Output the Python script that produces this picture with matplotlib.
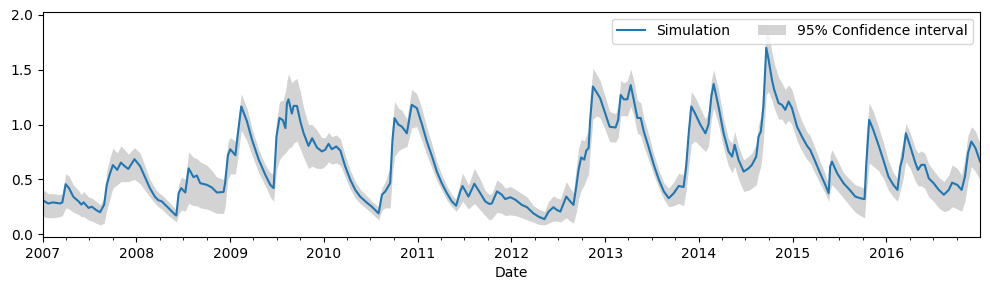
import numpy as np
import pandas as pd
import matplotlib
matplotlib.use("Agg")
import matplotlib.pyplot as plt
import matplotlib.dates as mdates

# values
dates = [
    "2007-01-01", "2007-01-23", "2007-02-11", "2007-03-10", "2007-03-19", "2007-04-01",
    "2007-04-14", "2007-05-01", "2007-05-21", "2007-06-01", "2007-06-10", "2007-06-29",
    "2007-07-12", "2007-07-29", "2007-08-13", "2007-08-29", "2007-09-08", "2007-09-21",
    "2007-10-02", "2007-10-19", "2007-11-02", "2007-11-17", "2007-12-01", "2007-12-25",
    "2008-01-16", "2008-02-04", "2008-02-23", "2008-03-14", "2008-03-27", "2008-04-09",
    "2008-05-05", "2008-06-01", "2008-06-05", "2008-06-14", "2008-06-24", "2008-07-10",
    "2008-07-23", "2008-08-11", "2008-08-24", "2008-09-06", "2008-10-02", "2008-10-22",
    "2008-11-10", "2008-12-06", "2008-12-12", "2008-12-23",
    "2009-01-01", "2009-01-21", "2009-01-31", "2009-02-13", "2009-03-07", "2009-03-27",
    "2009-04-22", "2009-05-18", "2009-06-06", "2009-06-19", "2009-06-30", "2009-07-12",
    "2009-07-25", "2009-08-04", "2009-08-10", "2009-08-16", "2009-08-29", "2009-09-05",
    "2009-09-18", "2009-10-01", "2009-10-14", "2009-11-02", "2009-11-16", "2009-12-05",
    "2009-12-24",
    "2010-01-06", "2010-01-19", "2010-02-01", "2010-02-18", "2010-03-06", "2010-03-25",
    "2010-04-14", "2010-05-03", "2010-05-22", "2010-06-17", "2010-07-07", "2010-08-02",
    "2010-08-15", "2010-08-28", "2010-09-16", "2010-09-25", "2010-10-03", "2010-10-18",
    "2010-11-01", "2010-11-20", "2010-12-09", "2010-12-29",
    "2011-01-18", "2011-02-06", "2011-02-26", "2011-03-17", "2011-04-05", "2011-04-25",
    "2011-05-14", "2011-05-31", "2011-06-16", "2011-06-25", "2011-07-18", "2011-08-10",
    "2011-09-02", "2011-09-21", "2011-10-07", "2011-10-17", "2011-11-06", "2011-11-25",
    "2011-12-08", "2011-12-28",
    "2012-01-16", "2012-02-11", "2012-03-02", "2012-03-27", "2012-04-16", "2012-05-09",
    "2012-05-25", "2012-06-13", "2012-06-27", "2012-07-10", "2012-08-02", "2012-08-17",
    "2012-08-30", "2012-09-10", "2012-09-19", "2012-09-29", "2012-10-11", "2012-10-19",
    "2012-10-28", "2012-11-03", "2012-11-14", "2012-11-30", "2012-12-12",
    "2013-01-01", "2013-01-18", "2013-02-10", "2013-02-20", "2013-03-02", "2013-03-14",
    "2013-03-28", "2013-04-10", "2013-04-22", "2013-05-06", "2013-05-19", "2013-05-31",
    "2013-06-20", "2013-07-09", "2013-07-29", "2013-08-17", "2013-09-05", "2013-09-25",
    "2013-10-14", "2013-11-02", "2013-11-12", "2013-11-22", "2013-12-02", "2013-12-17",
    "2014-01-06", "2014-01-26", "2014-02-07", "2014-02-18", "2014-02-27", "2014-03-18",
    "2014-04-07", "2014-04-26", "2014-05-10", "2014-05-20", "2014-06-04", "2014-06-24",
    "2014-07-13", "2014-07-26", "2014-08-12", "2014-08-21", "2014-08-30", "2014-09-09",
    "2014-09-20", "2014-09-28", "2014-10-12", "2014-10-21", "2014-11-07", "2014-11-20",
    "2014-12-03", "2014-12-16", "2014-12-29",
    "2015-01-18", "2015-02-06", "2015-02-26", "2015-03-10", "2015-03-30", "2015-04-18",
    "2015-05-08", "2015-05-21", "2015-05-27", "2015-06-03", "2015-06-23", "2015-07-18",
    "2015-08-11", "2015-09-02", "2015-09-21", "2015-10-08", "2015-10-14", "2015-10-26",
    "2015-11-11", "2015-12-01", "2015-12-20",
    "2016-01-09", "2016-01-28", "2016-02-13", "2016-02-24", "2016-03-04", "2016-03-17",
    "2016-04-03", "2016-04-23", "2016-05-03", "2016-05-16", "2016-05-29", "2016-06-14",
    "2016-07-03", "2016-07-23", "2016-08-12", "2016-08-31", "2016-09-13", "2016-10-03",
    "2016-10-20", "2016-11-02", "2016-11-14", "2016-11-27", "2016-12-13", "2016-12-31",
]

simulation = [
    0.31, 0.28, 0.29, 0.28, 0.29, 0.456, 0.42, 0.34, 0.30, 0.27, 0.29, 0.24,
    0.25, 0.22, 0.20, 0.27, 0.45, 0.556, 0.63, 0.587, 0.653, 0.62, 0.595, 0.684,
    0.62, 0.52, 0.42, 0.34, 0.31, 0.30, 0.24, 0.176, 0.17, 0.374, 0.42, 0.38,
    0.60, 0.52, 0.535, 0.465, 0.45, 0.425, 0.38, 0.385, 0.465, 0.72,
    0.775, 0.72, 0.92, 1.165, 1.03, 0.86, 0.68, 0.54, 0.45, 0.42, 0.89, 1.06,
    1.04, 0.967, 1.195, 1.23, 1.10, 1.17, 1.17, 1.03, 0.92, 0.805, 0.875, 0.79,
    0.755,
    0.77, 0.824, 0.775, 0.80, 0.763, 0.617, 0.495, 0.404, 0.343, 0.288, 0.25, 0.19,
    0.36, 0.39, 0.465, 0.86, 1.058, 1.0, 0.98, 0.92, 1.18, 1.15,
    1.0, 0.845, 0.71, 0.57, 0.465, 0.374, 0.30, 0.26, 0.39, 0.44, 0.343, 0.46,
    0.374, 0.30, 0.276, 0.28, 0.39, 0.36, 0.32, 0.337,
    0.315, 0.267, 0.246, 0.19, 0.16, 0.137, 0.206, 0.246, 0.22, 0.206, 0.343, 0.30,
    0.267, 0.435, 0.587, 0.70, 0.68, 0.763, 0.785, 1.04, 1.347, 1.287, 1.24,
    1.10, 0.98, 0.973, 1.04, 1.27, 1.23, 1.23, 1.36, 1.225, 1.06, 1.06, 0.936,
    0.785, 0.632, 0.495, 0.39, 0.328, 0.374, 0.44, 0.43, 0.617, 0.92, 1.165, 1.10,
    1.0, 0.92, 1.0, 1.255, 1.37, 1.165, 0.92, 0.754, 0.708, 0.815, 0.678, 0.571,
    0.60, 0.632, 0.708, 0.89, 0.936, 1.165, 1.70, 1.606, 1.41, 1.317, 1.195, 1.18,
    1.134, 1.21, 1.15,
    0.98, 0.89, 0.805, 0.77, 0.662, 0.556, 0.45, 0.374, 0.617, 0.662, 0.556, 0.465,
    0.404, 0.343, 0.328, 0.32, 0.617, 1.043, 0.95, 0.815, 0.678,
    0.525, 0.45, 0.404, 0.617, 0.693, 0.92, 0.80, 0.648, 0.587, 0.632, 0.632, 0.51,
    0.465, 0.404, 0.36, 0.404, 0.47, 0.45, 0.404, 0.525, 0.74, 0.845, 0.785, 0.662,
]

ci_lower = [
    0.16, 0.15, 0.15, 0.16, 0.17, 0.24, 0.23, 0.20, 0.18, 0.16, 0.16, 0.13,
    0.12, 0.10, 0.085, 0.10, 0.22, 0.33, 0.42, 0.45, 0.48, 0.48, 0.48, 0.50,
    0.46, 0.40, 0.34, 0.28, 0.25, 0.23, 0.17, 0.12, 0.11, 0.18, 0.22, 0.21,
    0.28, 0.26, 0.26, 0.24, 0.23, 0.21, 0.19, 0.19, 0.25, 0.50,
    0.55, 0.55, 0.70, 0.95, 0.85, 0.72, 0.56, 0.44, 0.34, 0.30, 0.58, 0.68,
    0.72, 0.74, 0.76, 0.78, 0.80, 0.83, 0.85, 0.78, 0.70, 0.60, 0.62, 0.60,
    0.60,
    0.62, 0.66, 0.64, 0.65, 0.63, 0.52, 0.41, 0.33, 0.28, 0.23, 0.19, 0.13,
    0.22, 0.24, 0.24, 0.55, 0.71, 0.76, 0.78, 0.80, 0.97, 0.98,
    0.85, 0.72, 0.60, 0.49, 0.40, 0.31, 0.25, 0.21, 0.26, 0.30, 0.23, 0.28,
    0.22, 0.17, 0.13, 0.14, 0.20, 0.19, 0.17, 0.176,
    0.17, 0.15, 0.13, 0.11, 0.09, 0.085, 0.10, 0.12, 0.12, 0.11, 0.15, 0.12,
    0.10, 0.20, 0.32, 0.40, 0.45, 0.50, 0.55, 0.75, 1.05, 1.08, 1.06,
    0.95, 0.845, 0.84, 0.88, 1.08, 1.08, 1.08, 1.165, 1.08, 0.92, 0.90, 0.80,
    0.67, 0.54, 0.42, 0.32, 0.25, 0.26, 0.28, 0.26, 0.40, 0.62, 0.82, 0.85,
    0.80, 0.755, 0.80, 1.05, 1.15, 1.0, 0.78, 0.62, 0.56, 0.62, 0.50, 0.39,
    0.40, 0.42, 0.45, 0.55, 0.62, 0.85, 1.27, 1.30, 1.22, 1.15, 1.05, 1.05,
    1.0, 1.04, 1.0,
    0.85, 0.76, 0.68, 0.65, 0.55, 0.46, 0.37, 0.30, 0.40, 0.45, 0.40, 0.33,
    0.26, 0.20, 0.17, 0.15, 0.35, 0.65, 0.62, 0.58, 0.51,
    0.40, 0.34, 0.30, 0.40, 0.48, 0.66, 0.60, 0.48, 0.44, 0.44, 0.42, 0.34,
    0.30, 0.24, 0.206, 0.22, 0.25, 0.23, 0.21, 0.30, 0.48, 0.617, 0.57, 0.50,
]

ci_upper = [
    0.41, 0.37, 0.37, 0.36, 0.37, 0.55, 0.53, 0.45, 0.40, 0.36, 0.39, 0.34,
    0.33, 0.30, 0.27, 0.33, 0.58, 0.70, 0.785, 0.74, 0.806, 0.77, 0.73, 0.79,
    0.74, 0.62, 0.50, 0.42, 0.38, 0.36, 0.30, 0.23, 0.22, 0.45, 0.52, 0.50,
    0.75, 0.70, 0.69, 0.66, 0.63, 0.58, 0.52, 0.50, 0.58, 0.84,
    0.88, 0.85, 1.03, 1.28, 1.15, 0.96, 0.77, 0.63, 0.56, 0.55, 1.03, 1.21,
    1.22, 1.30, 1.40, 1.46, 1.38, 1.40, 1.42, 1.30, 1.15, 1.00, 1.00, 0.95,
    0.88,
    0.88, 0.93, 0.89, 0.905, 0.87, 0.72, 0.58, 0.48, 0.41, 0.35, 0.30, 0.25,
    0.42, 0.48, 0.617, 1.0, 1.21, 1.15, 1.13, 1.05, 1.32, 1.28,
    1.14, 0.97, 0.82, 0.66, 0.54, 0.44, 0.36, 0.32, 0.48, 0.556, 0.45, 0.60,
    0.50, 0.40, 0.36, 0.37, 0.495, 0.46, 0.42, 0.435,
    0.41, 0.37, 0.34, 0.26, 0.23, 0.206, 0.30, 0.35, 0.33, 0.32, 0.48, 0.42,
    0.38, 0.62, 0.78, 0.867, 0.85, 0.90, 0.95, 1.25, 1.515, 1.45, 1.40,
    1.25, 1.12, 1.10, 1.17, 1.40, 1.38, 1.40, 1.505, 1.40, 1.22, 1.20, 1.06,
    0.90, 0.73, 0.58, 0.47, 0.42, 0.48, 0.556, 0.54, 0.75, 1.06, 1.30, 1.25,
    1.15, 1.05, 1.12, 1.40, 1.50, 1.32, 1.05, 0.87, 0.83, 0.936, 0.80, 0.678,
    0.71, 0.74, 0.82, 1.0, 1.08, 1.40, 1.94, 1.85, 1.66, 1.56, 1.43, 1.38,
    1.32, 1.36, 1.32,
    1.15, 1.03, 0.93, 0.90, 0.78, 0.66, 0.55, 0.45, 0.72, 0.77, 0.68, 0.56,
    0.50, 0.45, 0.435, 0.42, 0.90, 1.195, 1.12, 0.98, 0.84,
    0.67, 0.56, 0.51, 0.73, 0.82, 1.01, 0.92, 0.78, 0.74, 0.76, 0.74, 0.64,
    0.58, 0.52, 0.48, 0.54, 0.632, 0.60, 0.54, 0.70, 0.90, 0.98, 0.94, 0.82,
]

t = pd.to_datetime(dates)

fig, ax = plt.subplots(figsize=(9.9, 2.9), dpi=100)
ax.plot(t, simulation, color="tab:blue", lw=1.5, label="Simulation")
ax.fill_between(t, ci_lower, ci_upper, color="lightgray", lw=0,
                label="95% Confidence interval")

ax.set_xlim(pd.Timestamp("2007-01-01"), pd.Timestamp("2016-12-31"))
ax.set_ylim(-0.025, 2.03)
ax.set_yticks(np.arange(0, 2.01, 0.5))
ax.xaxis.set_major_locator(mdates.YearLocator())
ax.xaxis.set_major_formatter(mdates.DateFormatter("%Y"))
ax.xaxis.set_minor_locator(mdates.MonthLocator(bymonth=[4, 7, 10]))
ax.set_xlabel("Date")
ax.legend(loc="upper right", ncol=2)

fig.subplots_adjust(left=0.043, right=0.99, top=0.96, bottom=0.183)
fig.savefig("out.png", dpi=100)
